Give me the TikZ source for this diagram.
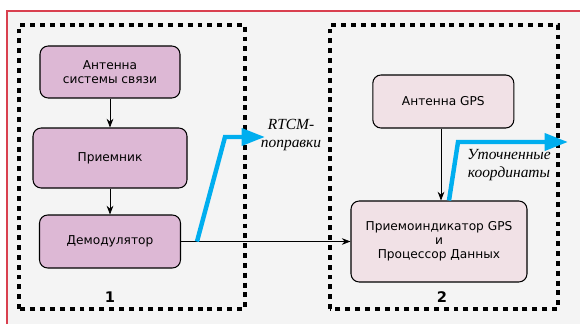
\documentclass[tikz,border=0pt]{standalone}
\usepackage{fontspec}
\setmainfont{Liberation Serif}
\newfontfamily\boxfont{DejaVu Sans}
\usetikzlibrary{arrows.meta}
\definecolor{frameRed}{HTML}{D9404F}
\definecolor{pageGray}{HTML}{F4F4F4}
\definecolor{unitViolet}{HTML}{DDB8D5}
\definecolor{unitPink}{HTML}{F1E1E6}
\definecolor{corrBlue}{HTML}{00AEEF}
\tikzset{
    unit/.style={draw=black, line width=0.9pt, rounded corners=7pt, fill=unitViolet, align=center, font=\boxfont\fontsize{10.4}{12}\selectfont, inner sep=0pt},
    gpsunit/.style={unit, fill=unitPink},
    zone/.style={draw=black, line width=2.6pt, dash pattern=on 4.2pt off 4.2pt},
    corr/.style={draw=corrBlue, line width=3.8pt, -{Triangle[length=7mm, width=5mm]}},
    link/.style={draw=black, line width=0.7pt, -{Stealth[length=2.6mm, width=2mm]}},
    note/.style={align=center, font=\itshape\fontsize{13.2}{15}\selectfont},
    zonenum/.style={font=\boxfont\bfseries\fontsize{12.5}{12.5}\selectfont}
}
\begin{document}
\begin{tikzpicture}
        \useasboundingbox (0,0) rectangle (17.4,9.72);
        \fill[pageGray] (0.21,0) rectangle (17.4,9.39); %page
        \draw[frameRed, line width=1.5pt] (0.21,0) -- (0.21,9.39) -- (17.4,9.39); %frame

        \draw[zone] (0.57,0.45) rectangle (7.35,8.97); %zone 1
        \draw[zone] (9.9,0.45) rectangle (16.74,8.97); %zone 2

        \node[unit, minimum width=4.2cm, minimum height=1.56cm] (ant) at (3.3,7.56) {Антенна\\системы связи};
        \node[unit, minimum width=4.62cm, minimum height=1.8cm] (rx) at (3.3,4.98) {Приемник};
        \node[unit, minimum width=4.23cm, minimum height=1.59cm] (demod) at (3.3,2.475) {Демодулятор};

        \node[gpsunit, minimum width=4.23cm, minimum height=1.59cm] (antgps) at (13.3,6.675) {Антенна GPS};
        \node[gpsunit, minimum width=5.28cm, minimum height=2.43cm] (proc) at (13.17,2.475) {Приемоиндикатор GPS\\и\\Процессор Данных};

        \draw[link] (ant) -- (rx);
        \draw[link] (rx) -- (demod);
        \draw[link] (demod) -- (proc);
        \draw[link] (antgps.south -| 13.23,0) -- (proc.north -| 13.23,0);

        \coordinate (rtcm0) at (5.91,2.475);
        \coordinate (rtcm1) at (6.75,5.61);
        \coordinate (rtcm2) at (7.95,5.61);
        \draw[corr] (rtcm0) -- (rtcm1) -- (rtcm2); %rtcm
        \coordinate (pos0) at (proc.north -| 13.47,0);
        \coordinate (pos1) at (13.74,5.46);
        \coordinate (pos2) at (17.04,5.46);
        \draw[corr] (pos0) -- (pos1) -- (pos2); %coords

        \node[note] (rtcmtext) at (8.73,5.67) {RTCM-\\поправки};
        \node[note] (postext) at (15.27,4.77) {Уточненные\\координаты};
        \node[zonenum] (z1) at (3.3,0.81) {1};
        \node[zonenum] (z2) at (13.26,0.81) {2};
    \end{tikzpicture}
\end{document}
